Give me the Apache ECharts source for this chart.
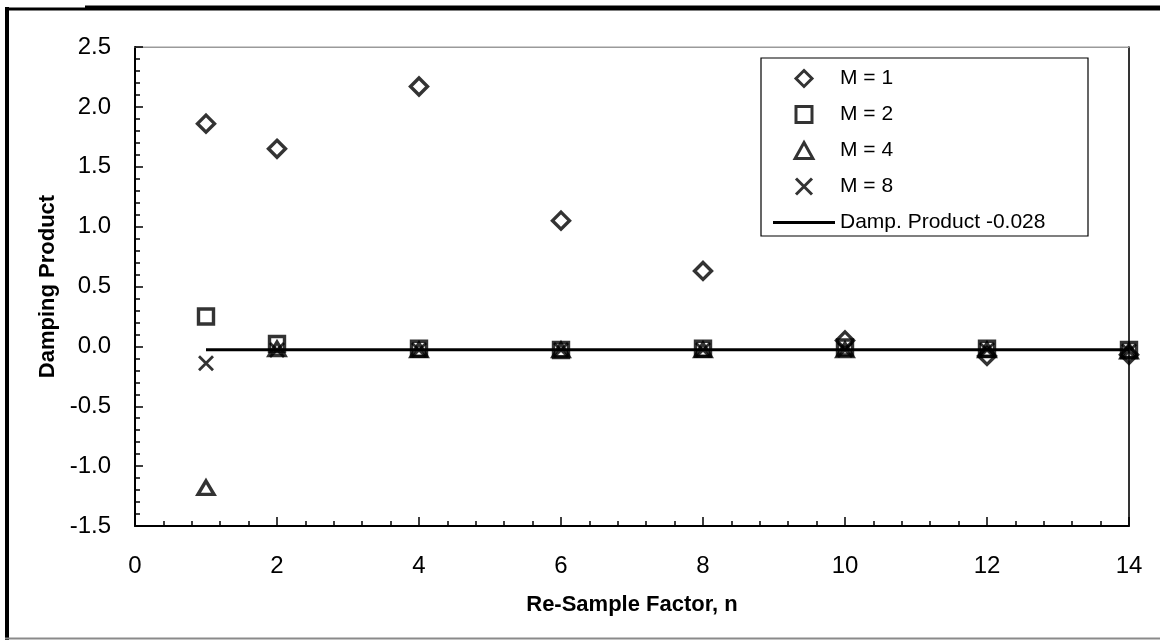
<!DOCTYPE html>
<html>
<head>
<meta charset="utf-8">
<title>Damping Product vs Re-Sample Factor</title>
<script src="https://cdn.jsdelivr.net/npm/echarts@6/dist/echarts.min.js"></script>
<style>
  html, body { margin: 0; padding: 0; background: #fff; }
  #chart { width: 1160px; height: 640px; }
</style>
</head>
<body>
<div id="chart"></div>
<script>
// Re-sample factor n at which each run was evaluated
const resampleFactors = [1, 2, 4, 6, 8, 10, 12, 14];

// Damping product for each filter length M
const dampM1 = [1.86, 1.65, 2.17, 1.05, 0.63, 0.05, -0.08, -0.07];
const dampM2 = [0.25, 0.02, -0.02, -0.03, -0.02, -0.01, -0.02, -0.03];
const dampM4 = [-1.18, -0.02, -0.03, -0.03, -0.03, -0.03, -0.03, -0.04];
const dampM8 = [-0.14, -0.03, -0.03, -0.03, -0.03, -0.03, -0.03, -0.04];

// Reference level of the damping product, drawn across the sampled range
const referenceLevel = -0.028;
const referenceSpan = [1, 14];

const seriesNames = ['M = 1', 'M = 2', 'M = 4', 'M = 8', 'Damp. Product -0.028'];

const INK = '#000';
const FONT = '"Liberation Sans", Arial, Helvetica, sans-serif';

// Outline marker shapes (path symbols keep their aspect in the legend too)
const SYM_DIAMOND = 'path://M5,0L10,5L5,10L0,5Z';
const SYM_SQUARE = 'path://M0,0L10,0L10,10L0,10Z';
const SYM_TRIANGLE = 'path://M5,0L10,9L0,9Z';
const SYM_CROSS = 'path://M0,0L10,10M10,0L0,10';
const SYM_LINE = 'path://M0,0L62,0L62,3L0,3Z';

function pairs(xs, ys) {
  return xs.map((x, i) => [x, ys[i]]);
}

const hollow = {
  color: 'rgba(255,255,255,0)',
  borderColor: INK,
  borderWidth: 3.4
};

const chart = echarts.init(document.getElementById('chart'), null, { renderer: 'canvas' });

chart.setOption({
  backgroundColor: '#fff',
  animation: false,
  textStyle: { fontFamily: FONT, color: INK },
  grid: {
    left: 135, top: 47, width: 994, height: 479,
    show: true, borderColor: '#9a9a9a', borderWidth: 1,
    containLabel: false
  },
  legend: {
    orient: 'vertical',
    left: 761, top: 58,
    padding: [10, 8, 3, 12],
    itemWidth: 62, itemHeight: 16, itemGap: 15,
    symbolKeepAspect: true,
    backgroundColor: '#fff',
    borderColor: INK, borderWidth: 1.2, borderRadius: 0,
    itemStyle: { borderWidth: 3 },
    textStyle: { fontFamily: FONT, fontSize: 21, color: INK, lineHeight: 20, width: 240, padding: [0, 0, 0, 0] },
    data: [
      { name: seriesNames[0] },
      { name: seriesNames[1] },
      { name: seriesNames[2] },
      { name: seriesNames[3] },
      { name: seriesNames[4], icon: SYM_LINE, itemStyle: { color: INK, borderWidth: 0 } }
    ]
  },
  xAxis: [{
    type: 'value', min: 0, max: 14, interval: 2,
    name: 'Re-Sample Factor, n', nameLocation: 'middle', nameGap: 68,
    nameTextStyle: { fontFamily: FONT, fontSize: 22, fontWeight: 'bold', color: INK },
    axisLine: { show: true, onZero: false, lineStyle: { color: INK, width: 2 } },
    axisTick: { show: true, inside: true, length: 9, lineStyle: { color: INK, width: 1.5 } },
    minorTick: { show: true, splitNumber: 5, length: 5, lineStyle: { color: INK, width: 1.5 } },
    axisLabel: { fontFamily: FONT, fontSize: 24, color: INK, margin: 28 },
    splitLine: { show: false }
  }, {
    type: 'value', min: 0, max: 14, position: 'top',
    axisLine: { show: true, onZero: false, lineStyle: { color: '#9a9a9a', width: 1 } },
    axisTick: { show: false }, axisLabel: { show: false }, splitLine: { show: false }
  }],
  yAxis: [{
    type: 'value', min: -1.5, max: 2.5, interval: 0.5,
    name: 'Damping Product', nameLocation: 'middle', nameGap: 76, nameRotate: 90,
    nameTextStyle: { fontFamily: FONT, fontSize: 22, fontWeight: 'bold', color: INK },
    axisLine: { show: true, onZero: false, lineStyle: { color: INK, width: 2 } },
    axisTick: { show: true, inside: true, length: 8, lineStyle: { color: INK, width: 1.5 } },
    minorTick: { show: true, splitNumber: 5, length: 5, lineStyle: { color: INK, width: 1.5 } },
    axisLabel: { fontFamily: FONT, fontSize: 24, color: INK, margin: 24, formatter: v => v.toFixed(1) },
    splitLine: { show: false }
  }, {
    type: 'value', min: -1.5, max: 2.5, position: 'right',
    axisLine: { show: true, onZero: false, lineStyle: { color: INK, width: 1.5 } },
    axisTick: { show: false }, axisLabel: { show: false }, splitLine: { show: false }
  }],
  series: [
    {
      name: seriesNames[4], type: 'line', z: 1,
      data: referenceSpan.map(x => [x, referenceLevel]),
      showSymbol: false, symbol: 'none',
      lineStyle: { color: INK, width: 3 },
      itemStyle: { color: INK }
    },
    {
      name: seriesNames[0], type: 'scatter', z: 3,
      data: pairs(resampleFactors, dampM1),
      symbol: SYM_DIAMOND, symbolSize: [17, 17], symbolKeepAspect: true,
      itemStyle: hollow
    },
    {
      name: seriesNames[1], type: 'scatter', z: 3,
      data: pairs(resampleFactors, dampM2),
      symbol: SYM_SQUARE, symbolSize: [15, 15], symbolKeepAspect: true,
      itemStyle: hollow
    },
    {
      name: seriesNames[2], type: 'scatter', z: 3,
      data: pairs(resampleFactors, dampM4),
      symbol: SYM_TRIANGLE, symbolSize: [16, 15], symbolKeepAspect: true,
      itemStyle: hollow
    },
    {
      name: seriesNames[3], type: 'scatter', z: 3,
      data: pairs(resampleFactors, dampM8),
      symbol: SYM_CROSS, symbolSize: [14, 14], symbolKeepAspect: true,
      itemStyle: { color: 'rgba(0,0,0,0)', borderColor: INK, borderWidth: 2.8 }
    }
  ],
  graphic: [
    // page frame around the figure
    { type: 'line', silent: true, shape: { x1: 7, y1: 7, x2: 7, y2: 640 }, style: { stroke: INK, lineWidth: 4 } },
    { type: 'line', silent: true, shape: { x1: 5, y1: 9, x2: 85, y2: 9 }, style: { stroke: INK, lineWidth: 3 } },
    { type: 'line', silent: true, shape: { x1: 85, y1: 8, x2: 1160, y2: 8 }, style: { stroke: INK, lineWidth: 5 } },
    { type: 'line', silent: true, shape: { x1: 5, y1: 638.5, x2: 1160, y2: 638.5 }, style: { stroke: '#8a8a8a', lineWidth: 2 } }
  ]
});
</script>
</body>
</html>
